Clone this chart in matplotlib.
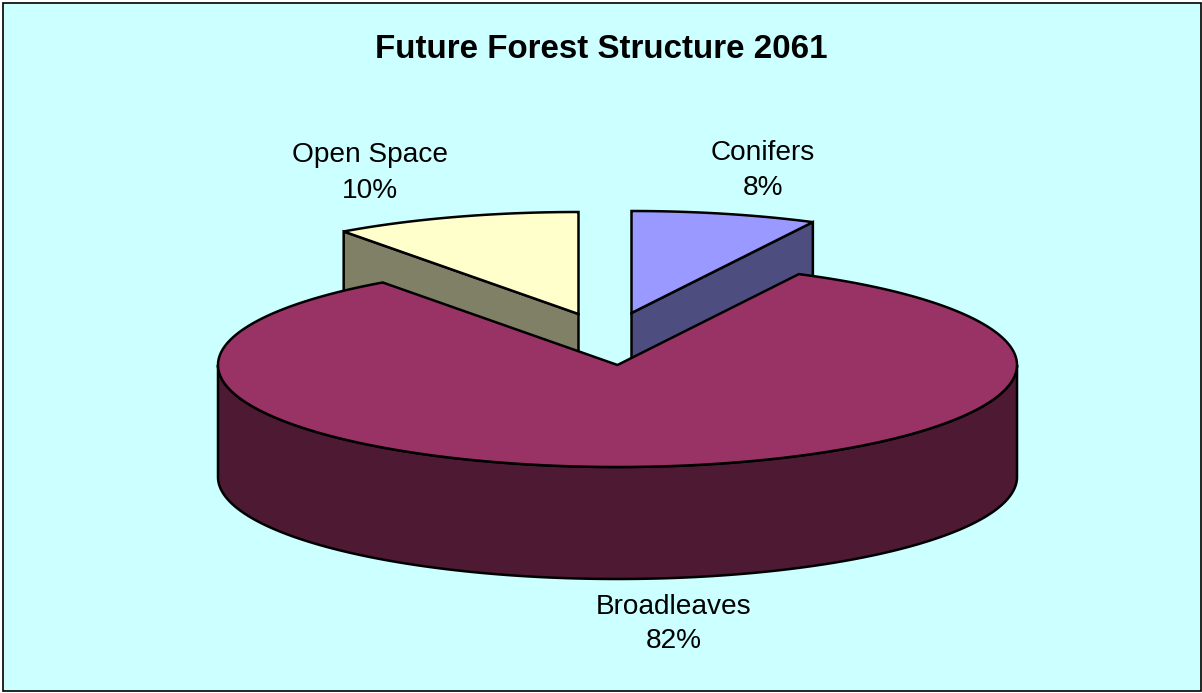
import numpy as np
import matplotlib
matplotlib.use("Agg")
import matplotlib.pyplot as plt
from matplotlib.patches import Polygon, Rectangle

categories = ["Conifers", "Broadleaves", "Open Space"]
values = [7.5, 82.5, 10.0]  # shares, labels are rounded
pct_labels = ["8%", "82%", "10%"]

top_colors = ["#9999FF", "#993366", "#FFFFCC"]
side_colors = ["#4D4D80", "#4D1933", "#808066"]
offsets = [(14, -52), (0, 0), (-39, -51)]
label_pos = [(763, 170.5), (674, 624), (370, 173)]

cx, cy = 617.5, 365
rx, ry = 399.5, 102
depth = 112
lw = 1.8

plt.rcParams["font.family"] = ["Liberation Sans", "DejaVu Sans"]


def ellipse_pts(a0, a1, dx=0, dy=0):
    # angles in degrees, 0 = east, going clockwise from a0 down to a1
    t = np.radians(np.linspace(a0, a1, 400))
    return np.column_stack([cx + dx + rx * np.cos(t), cy + dy - ry * np.sin(t)])


fig = plt.figure(figsize=(12.02, 6.93), dpi=100, facecolor="white")
ax = fig.add_axes([0, 0, 1, 1])
ax.set_xlim(0, 1202)
ax.set_ylim(693, 0)
ax.axis("off")

ax.add_patch(Rectangle((2.5, 2.5), 1198, 688.5, fc="#CCFFFF", ec="black", lw=1.2, zorder=0))

# slice angles, clockwise from 12 o'clock
edges = 90 - np.cumsum([0] + values) * 3.6

# exploded slices go behind the big one
for i in [0, 2, 1]:
    a0, a1 = edges[i], edges[i + 1]
    dx, dy = offsets[i]
    z = 3 if i == 1 else 1
    apex = np.array([cx + dx, cy + dy])
    rim = ellipse_pts(a0, a1, dx, dy)

    if i == 1:
        # outer wall, only the front half shows
        front = ellipse_pts(180, 360)
        wall = np.vstack([front, front[::-1] + [0, depth]])
        ax.add_patch(Polygon(wall, fc=side_colors[i], ec="black", lw=lw, zorder=z))
    else:
        # cut face towards the viewer
        end = rim[-1] if i == 0 else rim[0]
        face = np.array([apex, end, end + [0, depth], apex + [0, depth]])
        ax.add_patch(Polygon(face, fc=side_colors[i], ec="black", lw=lw, zorder=z))

    top = np.vstack([apex, rim])
    ax.add_patch(Polygon(top, fc=top_colors[i], ec="black", lw=lw, joinstyle="miter", zorder=z))

ax.text(601.5, 49, "Future Forest Structure 2061", fontsize=23.9, fontweight="bold",
        ha="center", va="center", color="black")

for name, pct, (x, y) in zip(categories, pct_labels, label_pos):
    ax.text(x, y, name + "\n" + pct, fontsize=20.2, ha="center", va="center",
            linespacing=1.45, color="black")

fig.savefig("out.png", dpi=100, facecolor=fig.get_facecolor())
